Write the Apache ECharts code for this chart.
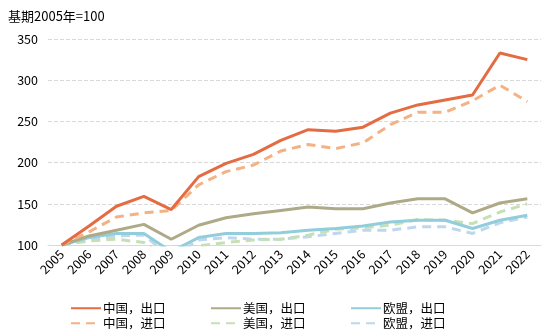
<!DOCTYPE html>
<html><head><meta charset="utf-8">
<script src="https://cdn.jsdelivr.net/npm/echarts@6/dist/echarts.min.js"></script>
<style>html,body{margin:0;padding:0;background:#fff}#c{width:553px;height:332px}</style>
</head><body><div id="c"></div>
<script>
const years = ['2005','2006','2007','2008','2009','2010','2011','2012','2013','2014','2015','2016','2017','2018','2019','2020','2021','2022'];
const chinaExport = [100,123,147,159,143,183,199,210,227,240,238,243,260,270,276,282,333,325];
const chinaImport = [100,116,134,139,142,173,189,197,214,222,217,224,246,261,261,275,294,274];
const usExport    = [100,111,118,125,107,124,133,138,142,146,144,144,151,156,156,139,151,156];
const usImport    = [100,105,107,103,80,99,103,106,107,112,119,121,124,131,130,126,140,150];
const euExport    = [100,109,114,114,92,109,114,114,115,118,120,123,128,130,130,120,130,136];
const euImport    = [100,106,111,112,85,106,109,107,107,110,114,118,118,122,122,114,127,134];
const seriesNames = ['中国，出口','美国，出口','欧盟，出口','中国，进口','美国，进口','欧盟，进口'];
const yTicks = {min:100, max:350, interval:50};

const font = '"Microsoft YaHei","Noto Sans CJK SC","DejaVu Sans",sans-serif';
function mk(name, data, color, dashed){
  return {name, type:'line', data, symbol:'none', smooth:false,
    lineStyle:{color, width:3, type: dashed ? [9,6] : 'solid', cap:'butt'},
    itemStyle:{color}, clip:true};
}
const legendLefts = [70, 210, 350];
const legendTops = [302, 317];
const legends = seriesNames.map((n, i) => ({
  data:[n], left: legendLefts[i % 3], top: legendTops[Math.floor(i / 3)],
  itemWidth:30, itemHeight:10, itemGap:0, padding:0, selectedMode:false,
  itemStyle:{opacity:0},
  textStyle:{fontSize:12.5, color:'#000', fontFamily:font, padding:[0,0,0,-3]}
}));
const chart = echarts.init(document.getElementById('c'));
chart.setOption({
  animation:false,
  textStyle:{fontFamily:font},
  title:{text:'基期2005年=100', left:3, top:5, textStyle:{fontSize:13, fontWeight:'normal', color:'#000', fontFamily:font}},
  grid:{left:48, right:12, top:39, bottom:87},
  xAxis:{type:'category', data:years, boundaryGap:true,
    axisLine:{lineStyle:{color:'#d9d9d9', width:1}}, axisTick:{show:false},
    axisLabel:{rotate:45, fontSize:12.5, color:'#000', margin:7, interval:0, fontFamily:font}},
  yAxis:{type:'value', min:yTicks.min, max:yTicks.max, interval:yTicks.interval,
    axisLine:{show:false}, axisTick:{show:false},
    axisLabel:{fontSize:12.5, color:'#000', margin:10, fontFamily:font},
    splitLine:{lineStyle:{color:'#d9d9d9', type:[4,2]}}},
  legend: legends,
  series:[
    mk(seriesNames[5], euImport, '#BDD7EE', true),
    mk(seriesNames[4], usImport, '#C5E0B4', true),
    mk(seriesNames[2], euExport, '#92CDDC', false),
    mk(seriesNames[1], usExport, '#AEAA88', false),
    mk(seriesNames[3], chinaImport, '#F4B183', true),
    mk(seriesNames[0], chinaExport, '#E46C43', false)
  ]
});
</script></body></html>
